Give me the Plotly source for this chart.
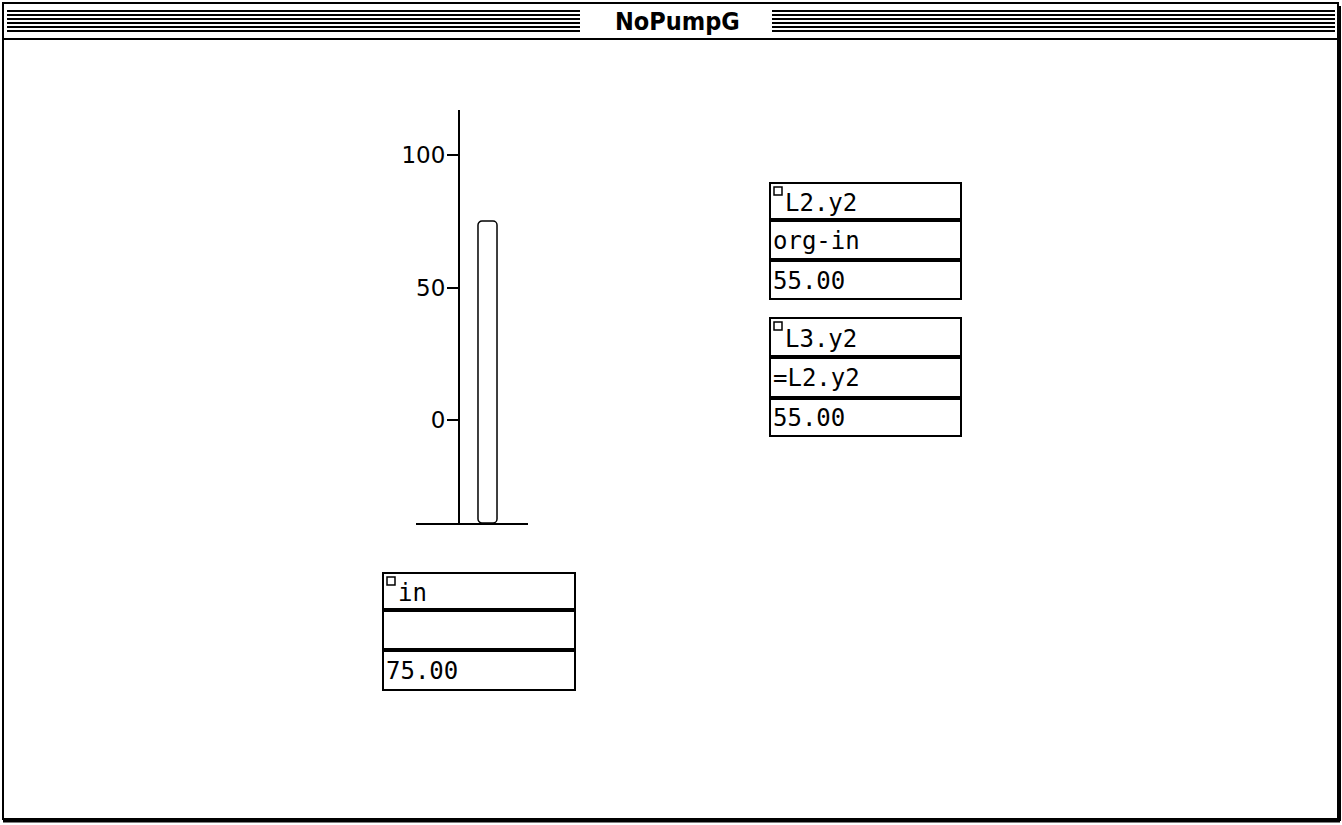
import plotly.graph_objects as go

# ---- data ----
window_title = "NoPumpG"
bar_categories = ["in"]
bar_values = [75]
y_tickvals = [0, 50, 100]
y_ticktext = ["0", "50", "100"]

cell_names = ["L2.y2", "L3.y2", "in"]
cell_formulas = ["org-in", "=L2.y2", ""]
cell_values = [55.00, 55.00, 75.00]

# ---- layout constants (pixels) ----
W, H = 1342, 825
Y_MIN, Y_MAX = -38.6, 116.8


def X(px):
    return px / W


def Y(py):
    return 1 - py / H


# cell box positions: (left, top, right, row boundaries)
cell_boxes = [
    (770, 183, 961, [183, 220, 260, 299]),
    (770, 318, 961, [318, 357, 398, 436]),
    (383, 573, 575, [573, 610, 650, 690]),
]

fig = go.Figure()
# bar drawn from the axis floor up to the value
fig.add_trace(go.Bar(
    x=bar_categories, y=[v - Y_MIN for v in bar_values], base=Y_MIN, width=1,
    marker=dict(color="white", line=dict(color="black", width=1.5)),
    hoverinfo="skip",
))

fig.update_layout(
    width=W, height=H,
    margin=dict(l=0, r=0, t=0, b=0),
    paper_bgcolor="white", plot_bgcolor="white",
    showlegend=False,
    barcornerradius=4,
    xaxis=dict(domain=[X(416), X(528)], range=[-3.76, 2.13],
               showline=True, linecolor="black", linewidth=2,
               showticklabels=False, ticks="", showgrid=False, zeroline=False,
               fixedrange=True),
    yaxis=dict(domain=[Y(523), Y(110)], range=[Y_MIN, Y_MAX],
               anchor="free", position=X(459),
               showline=True, linecolor="black", linewidth=2,
               tickvals=y_tickvals, ticktext=y_ticktext,
               ticks="outside", ticklen=11, tickwidth=2, tickcolor="black",
               ticklabelstandoff=-3,
               tickfont=dict(family="DejaVu Sans", size=23, color="black"),
               showgrid=False, zeroline=False, fixedrange=True),
)

shapes = []
annotations = []

# window border
shapes.append(dict(type="rect", xref="paper", yref="paper",
                   x0=X(3), x1=X(1338), y0=Y(819), y1=Y(3),
                   line=dict(color="black", width=2)))
# bottom shadow
shapes.append(dict(type="line", xref="paper", yref="paper",
                   x0=X(3), x1=X(1340), y0=Y(821), y1=Y(821),
                   line=dict(color="black", width=3)))
shapes.append(dict(type="line", xref="paper", yref="paper",
                   x0=X(1340), x1=X(1340), y0=Y(821), y1=Y(6),
                   line=dict(color="black", width=2)))
# title bar bottom line
shapes.append(dict(type="line", xref="paper", yref="paper",
                   x0=X(3), x1=X(1338), y0=Y(39), y1=Y(39),
                   line=dict(color="black", width=2)))
# title stripes
for sy in [11, 15, 19, 23, 27, 31]:
    for (a, b) in [(7, 580), (772, 1335)]:
        shapes.append(dict(type="line", xref="paper", yref="paper",
                           x0=X(a), x1=X(b), y0=Y(sy), y1=Y(sy),
                           line=dict(color="black", width=1.8)))
annotations.append(dict(text="<b>" + window_title + "</b>", xref="paper", yref="paper",
                        x=X(677), y=Y(21), showarrow=False,
                        xanchor="center", yanchor="middle",
                        font=dict(family="Liberation Sans Narrow, DejaVu Sans Condensed, Arial Narrow",
                                  size=25, color="black")))

# cell boxes
mono = "DejaVu Sans Mono"
for (name, formula, value, box) in zip(cell_names, cell_formulas, cell_values, cell_boxes):
    left, top, right, rows = box
    shapes.append(dict(type="rect", xref="paper", yref="paper",
                       x0=X(left), x1=X(right), y0=Y(rows[-1]), y1=Y(rows[0]),
                       line=dict(color="black", width=2)))
    for r in rows[1:-1]:
        shapes.append(dict(type="line", xref="paper", yref="paper",
                           x0=X(left), x1=X(right), y0=Y(r), y1=Y(r),
                           line=dict(color="black", width=4)))
    # checkbox
    shapes.append(dict(type="rect", xref="paper", yref="paper",
                       x0=X(left + 4), x1=X(left + 12), y0=Y(top + 12), y1=Y(top + 4),
                       line=dict(color="black", width=1.5)))
    texts = [name, formula, f"{value:.2f}"]
    xs = [left + 13, left + 1, left + 1]
    for i, t in enumerate(texts):
        if not t:
            continue
        cy = (rows[i] + rows[i + 1]) / 2 + 1
        annotations.append(dict(text=t, xref="paper", yref="paper",
                                x=X(xs[i]), y=Y(cy), showarrow=False,
                                xanchor="left", yanchor="middle",
                                font=dict(family=mono, size=24, color="black")))

fig.update_layout(shapes=shapes, annotations=annotations)
fig.write_html("out.html", config={"displayModeBar": False},
               post_script="document.body.style.margin='0';document.body.style.overflow='hidden';")
